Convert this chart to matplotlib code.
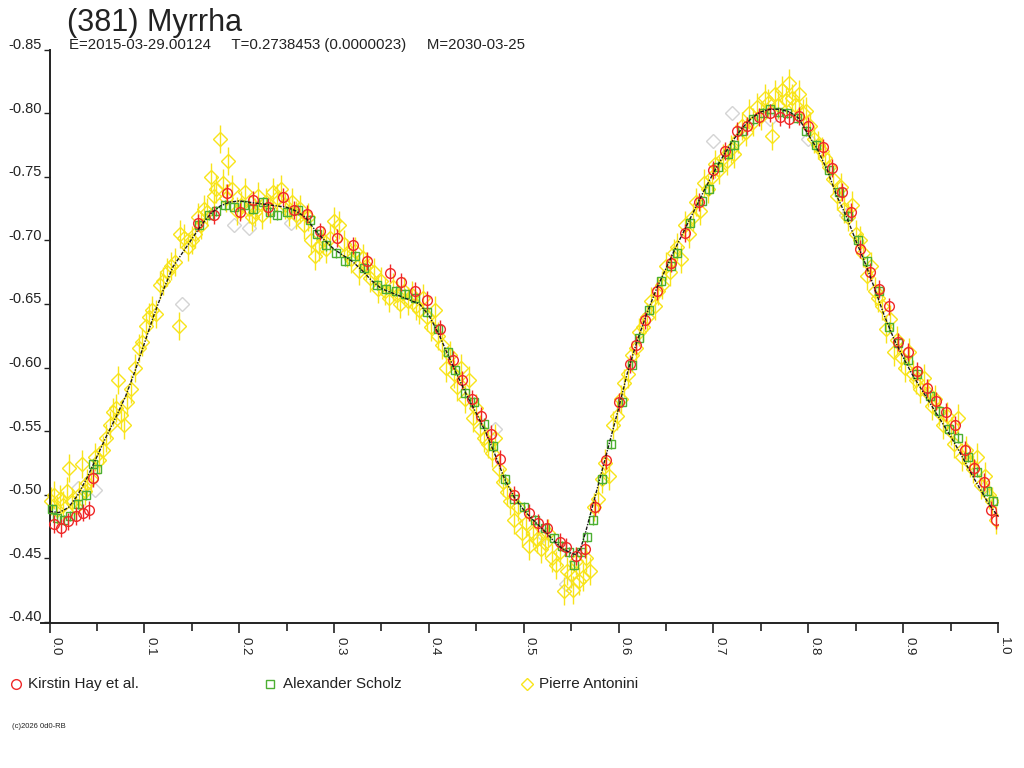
import matplotlib
matplotlib.use("Agg")
import matplotlib.pyplot as plt
import matplotlib.transforms as mtransforms
from matplotlib.lines import Line2D

plt.rcParams['font.family'] = ['Liberation Sans', 'DejaVu Sans']

title = "(381) Myrrha"
subtitle = "E=2015-03-29.00124     T=0.2738453 (0.0000023)     M=2030-03-25"
observers = ["Kirstin Hay et al.", "Alexander Scholz", "Pierre Antonini"]
copyright_text = "(c)2026 0d0-RB"

# fitted curve (phase, mag)
fit_phase = [0.00, 0.01, 0.02, 0.03, 0.04, 0.05, 0.06, 0.07, 0.08, 0.09,
             0.10, 0.11, 0.12, 0.13, 0.14, 0.15, 0.16, 0.17, 0.18, 0.19,
             0.20, 0.21, 0.22, 0.23, 0.24, 0.25, 0.26, 0.27, 0.28, 0.29,
             0.30, 0.31, 0.32, 0.33, 0.34, 0.35, 0.36, 0.37, 0.38, 0.39,
             0.40, 0.41, 0.42, 0.43, 0.44, 0.45, 0.46, 0.47, 0.48, 0.49,
             0.50, 0.51, 0.52, 0.53, 0.54, 0.55, 0.555, 0.56, 0.565, 0.57,
             0.58, 0.59, 0.60, 0.61, 0.62, 0.63, 0.64, 0.65, 0.66, 0.67,
             0.68, 0.69, 0.70, 0.71, 0.72, 0.73, 0.74, 0.75, 0.76, 0.77,
             0.78, 0.79, 0.80, 0.81, 0.82, 0.83, 0.84, 0.85, 0.86, 0.87,
             0.88, 0.89, 0.90, 0.91, 0.92, 0.93, 0.94, 0.95, 0.96, 0.97,
             0.98, 0.99, 1.00]
fit_mag = [-0.487, -0.486, -0.490, -0.500, -0.514, -0.530, -0.546, -0.561, -0.577, -0.597,
           -0.619, -0.641, -0.661, -0.679, -0.690, -0.701, -0.712, -0.721, -0.727, -0.730,
           -0.731, -0.730, -0.729, -0.728, -0.727, -0.726, -0.723, -0.718, -0.708, -0.700,
           -0.693, -0.688, -0.683, -0.676, -0.668, -0.662, -0.659, -0.656, -0.653, -0.650,
           -0.641, -0.627, -0.610, -0.594, -0.578, -0.564, -0.549, -0.531, -0.512, -0.498,
           -0.488, -0.480, -0.473, -0.465, -0.458, -0.454, -0.453, -0.458, -0.470, -0.484,
           -0.512, -0.540, -0.568, -0.598, -0.622, -0.643, -0.662, -0.678, -0.694, -0.709,
           -0.724, -0.739, -0.753, -0.766, -0.778, -0.788, -0.796, -0.801, -0.803, -0.803,
           -0.801, -0.796, -0.783, -0.771, -0.755, -0.735, -0.719, -0.700, -0.682, -0.662,
           -0.641, -0.623, -0.608, -0.594, -0.582, -0.570, -0.558, -0.546, -0.533, -0.519,
           -0.506, -0.493, -0.483]

hay_obs = [(0.005, -0.477), (0.012, -0.474), (0.020, -0.479), (0.028, -0.483), (0.035, -0.486),
           (0.042, -0.488), (0.046, -0.513), (0.157, -0.714), (0.173, -0.720), (0.187, -0.737),
           (0.201, -0.722), (0.215, -0.732), (0.230, -0.726), (0.246, -0.734), (0.258, -0.724),
           (0.271, -0.721), (0.285, -0.707), (0.303, -0.702), (0.320, -0.696), (0.335, -0.684),
           (0.359, -0.674), (0.371, -0.667), (0.385, -0.660), (0.398, -0.653), (0.412, -0.630),
           (0.425, -0.606), (0.435, -0.590), (0.445, -0.575), (0.455, -0.562), (0.465, -0.548),
           (0.475, -0.528), (0.490, -0.500), (0.505, -0.486), (0.515, -0.478), (0.525, -0.474),
           (0.538, -0.463), (0.545, -0.459), (0.555, -0.452), (0.565, -0.457), (0.575, -0.490),
           (0.587, -0.527), (0.600, -0.573), (0.612, -0.603), (0.618, -0.618), (0.628, -0.637),
           (0.640, -0.660), (0.655, -0.682), (0.670, -0.706), (0.685, -0.730), (0.700, -0.755),
           (0.712, -0.770), (0.725, -0.786), (0.735, -0.790), (0.748, -0.797), (0.760, -0.800),
           (0.770, -0.797), (0.780, -0.795), (0.790, -0.798), (0.800, -0.790), (0.815, -0.773),
           (0.825, -0.757), (0.835, -0.738), (0.845, -0.722), (0.855, -0.693), (0.865, -0.675),
           (0.875, -0.662), (0.885, -0.648), (0.895, -0.620), (0.905, -0.612), (0.915, -0.597),
           (0.925, -0.584), (0.935, -0.574), (0.945, -0.565), (0.955, -0.555), (0.965, -0.535),
           (0.975, -0.521), (0.985, -0.510), (0.993, -0.488), (0.998, -0.480)]

scholz_obs = [(0.003, -0.489), (0.008, -0.482), (0.015, -0.480), (0.022, -0.483), (0.030, -0.493),
              (0.038, -0.500), (0.046, -0.524), (0.050, -0.520), (0.158, -0.712), (0.168, -0.720),
              (0.176, -0.723), (0.185, -0.728), (0.195, -0.726), (0.205, -0.728), (0.215, -0.725),
              (0.225, -0.730), (0.232, -0.722), (0.240, -0.720), (0.250, -0.722), (0.262, -0.724),
              (0.275, -0.716), (0.282, -0.705), (0.292, -0.696), (0.302, -0.690), (0.312, -0.684),
              (0.322, -0.688), (0.332, -0.678), (0.345, -0.665), (0.355, -0.662), (0.365, -0.660),
              (0.375, -0.658), (0.385, -0.655), (0.398, -0.644), (0.410, -0.630), (0.420, -0.612),
              (0.428, -0.598), (0.438, -0.580), (0.448, -0.573), (0.458, -0.556), (0.468, -0.538),
              (0.480, -0.512), (0.490, -0.497), (0.500, -0.490), (0.512, -0.480), (0.522, -0.474),
              (0.532, -0.466), (0.540, -0.460), (0.548, -0.455), (0.553, -0.445), (0.560, -0.455),
              (0.567, -0.467), (0.573, -0.480), (0.583, -0.512), (0.592, -0.540), (0.604, -0.573),
              (0.614, -0.602), (0.622, -0.623), (0.632, -0.645), (0.645, -0.668), (0.655, -0.680),
              (0.662, -0.690), (0.675, -0.714), (0.688, -0.731), (0.695, -0.740), (0.705, -0.758),
              (0.715, -0.768), (0.722, -0.775), (0.730, -0.786), (0.742, -0.795), (0.752, -0.800),
              (0.760, -0.803), (0.768, -0.801), (0.778, -0.800), (0.788, -0.796), (0.798, -0.786),
              (0.808, -0.775), (0.822, -0.755), (0.832, -0.738), (0.842, -0.719), (0.852, -0.700),
              (0.862, -0.684), (0.875, -0.660), (0.885, -0.632), (0.895, -0.619), (0.905, -0.606),
              (0.915, -0.595), (0.928, -0.578), (0.938, -0.566), (0.948, -0.552), (0.958, -0.545),
              (0.968, -0.530), (0.978, -0.518), (0.988, -0.503), (0.995, -0.495)]

antonini_obs = [(0.002, -0.495), (0.005, -0.500), (0.008, -0.488), (0.011, -0.497), (0.014, -0.492),
                (0.018, -0.503), (0.021, -0.521), (0.024, -0.494), (0.028, -0.490), (0.031, -0.500),
                (0.034, -0.524), (0.037, -0.503), (0.040, -0.509), (0.044, -0.512), (0.048, -0.530),
                (0.052, -0.527), (0.056, -0.535), (0.060, -0.545), (0.064, -0.555), (0.067, -0.565),
                (0.070, -0.568), (0.072, -0.590), (0.075, -0.563), (0.078, -0.555), (0.082, -0.573),
                (0.086, -0.583), (0.090, -0.600), (0.094, -0.615), (0.098, -0.620), (0.102, -0.633),
                (0.105, -0.640), (0.108, -0.645), (0.112, -0.642), (0.116, -0.665), (0.120, -0.668),
                (0.124, -0.675), (0.128, -0.680), (0.132, -0.683), (0.136, -0.633), (0.138, -0.705),
                (0.142, -0.702), (0.146, -0.695), (0.150, -0.700), (0.153, -0.705), (0.157, -0.718),
                (0.160, -0.712), (0.163, -0.725), (0.166, -0.722), (0.170, -0.750), (0.173, -0.735),
                (0.176, -0.740), (0.180, -0.780), (0.183, -0.745), (0.186, -0.733), (0.188, -0.762),
                (0.192, -0.740), (0.198, -0.723), (0.202, -0.728), (0.206, -0.738), (0.210, -0.725),
                (0.213, -0.718), (0.217, -0.722), (0.220, -0.735), (0.224, -0.720), (0.228, -0.730),
                (0.232, -0.725), (0.236, -0.738), (0.240, -0.733), (0.244, -0.740), (0.248, -0.728),
                (0.252, -0.722), (0.256, -0.730), (0.260, -0.720), (0.264, -0.725), (0.268, -0.712),
                (0.272, -0.718), (0.276, -0.700), (0.280, -0.688), (0.284, -0.695), (0.288, -0.700),
                (0.292, -0.693), (0.296, -0.702), (0.300, -0.715), (0.305, -0.712), (0.310, -0.697),
                (0.314, -0.690), (0.318, -0.685), (0.322, -0.692), (0.326, -0.676), (0.330, -0.686),
                (0.334, -0.680), (0.338, -0.670), (0.342, -0.675), (0.346, -0.662), (0.350, -0.668),
                (0.354, -0.660), (0.358, -0.655), (0.362, -0.663), (0.366, -0.657), (0.370, -0.650),
                (0.374, -0.660), (0.378, -0.652), (0.382, -0.657), (0.386, -0.648), (0.390, -0.645),
                (0.394, -0.655), (0.398, -0.640), (0.402, -0.632), (0.406, -0.645), (0.410, -0.625),
                (0.414, -0.618), (0.418, -0.600), (0.422, -0.610), (0.426, -0.595), (0.430, -0.585),
                (0.434, -0.600), (0.438, -0.575), (0.442, -0.590), (0.446, -0.560), (0.450, -0.568),
                (0.454, -0.552), (0.458, -0.545), (0.462, -0.540), (0.466, -0.533), (0.470, -0.545),
                (0.474, -0.520), (0.478, -0.510), (0.482, -0.502), (0.486, -0.495), (0.490, -0.480),
                (0.494, -0.490), (0.498, -0.470), (0.502, -0.478), (0.506, -0.460), (0.510, -0.470),
                (0.514, -0.465), (0.518, -0.457), (0.522, -0.462), (0.526, -0.470), (0.530, -0.450),
                (0.534, -0.445), (0.538, -0.455), (0.542, -0.424), (0.546, -0.440), (0.550, -0.438),
                (0.552, -0.425), (0.555, -0.448), (0.558, -0.432), (0.562, -0.435), (0.566, -0.450),
                (0.570, -0.440), (0.574, -0.490), (0.578, -0.497), (0.582, -0.512), (0.586, -0.525),
                (0.590, -0.515), (0.594, -0.555), (0.598, -0.562), (0.602, -0.575), (0.606, -0.588),
                (0.610, -0.595), (0.614, -0.610), (0.618, -0.615), (0.622, -0.628), (0.626, -0.632),
                (0.630, -0.640), (0.634, -0.652), (0.638, -0.648), (0.642, -0.660), (0.646, -0.665),
                (0.650, -0.680), (0.654, -0.675), (0.658, -0.690), (0.662, -0.695), (0.666, -0.685),
                (0.670, -0.712), (0.674, -0.705), (0.678, -0.718), (0.682, -0.730), (0.686, -0.723),
                (0.690, -0.745), (0.694, -0.740), (0.698, -0.750), (0.702, -0.760), (0.706, -0.755),
                (0.710, -0.765), (0.714, -0.762), (0.718, -0.772), (0.722, -0.768), (0.726, -0.780),
                (0.730, -0.790), (0.734, -0.785), (0.738, -0.800), (0.742, -0.793), (0.746, -0.805),
                (0.750, -0.798), (0.754, -0.812), (0.758, -0.808), (0.762, -0.782), (0.765, -0.815),
                (0.768, -0.806), (0.772, -0.818), (0.776, -0.810), (0.780, -0.824), (0.783, -0.812),
                (0.786, -0.806), (0.790, -0.815), (0.794, -0.800), (0.798, -0.802), (0.802, -0.790),
                (0.806, -0.780), (0.810, -0.775), (0.814, -0.770), (0.818, -0.765), (0.822, -0.758),
                (0.826, -0.748), (0.830, -0.735), (0.834, -0.742), (0.838, -0.725), (0.842, -0.718),
                (0.846, -0.728), (0.850, -0.705), (0.854, -0.700), (0.858, -0.690), (0.862, -0.672),
                (0.866, -0.680), (0.870, -0.660), (0.874, -0.655), (0.878, -0.648), (0.882, -0.630),
                (0.886, -0.638), (0.890, -0.612), (0.894, -0.622), (0.898, -0.608), (0.902, -0.600),
                (0.906, -0.612), (0.910, -0.595), (0.914, -0.590), (0.918, -0.583), (0.922, -0.592),
                (0.926, -0.580), (0.930, -0.570), (0.934, -0.575), (0.938, -0.565), (0.942, -0.555),
                (0.946, -0.562), (0.950, -0.550), (0.954, -0.540), (0.958, -0.560), (0.962, -0.530),
                (0.966, -0.535), (0.970, -0.525), (0.974, -0.520), (0.978, -0.530), (0.982, -0.508),
                (0.986, -0.515), (0.990, -0.500), (0.994, -0.495), (0.998, -0.480)]

# pale diamonds without a legend entry
other_obs = [(0.030, -0.505), (0.048, -0.504), (0.140, -0.650), (0.195, -0.712), (0.210, -0.710),
             (0.255, -0.714), (0.470, -0.552), (0.520, -0.468), (0.545, -0.430), (0.630, -0.640),
             (0.700, -0.778), (0.720, -0.800), (0.760, -0.795), (0.800, -0.780), (0.840, -0.720),
             (0.985, -0.505)]

hay_err = 0.007
scholz_err = 0.004
antonini_err = 0.011

yticks = [-0.85, -0.80, -0.75, -0.70, -0.65, -0.60, -0.55, -0.50, -0.45, -0.40]
xticks = [0.0, 0.1, 0.2, 0.3, 0.4, 0.5, 0.6, 0.7, 0.8, 0.9, 1.0]

red = '#f02828'
green = '#4caf32'
yellow = '#f8e41a'
grey = '#d4d4d4'
axis_col = '#222222'

fig = plt.figure(figsize=(10.24, 7.68), dpi=100)
W, H = 1024, 768
ax = fig.add_axes([40.7 / W, (H - 623) / H, (998 - 40.7) / W, (623 - 49.5) / H])

def split(obs):
    return [p for p, _ in obs], [m for _, m in obs]

ox, oy = split(other_obs)
ax.plot(ox, oy, 'D', ms=7, mfc='none', mec=grey, mew=1, zorder=1)

px, py = split(antonini_obs)
ax.errorbar(px, py, yerr=antonini_err, fmt='D', ms=6.8, mfc='none', mec=yellow, mew=1,
            ecolor=yellow, elinewidth=1, capsize=0, zorder=2)

sx, sy = split(scholz_obs)
ax.errorbar(sx, sy, yerr=scholz_err, fmt='s', ms=5.4, mfc='none', mec=green, mew=1,
            ecolor=green, elinewidth=1, capsize=0, zorder=3)

hx, hy = split(hay_obs)
ax.errorbar(hx, hy, yerr=hay_err, fmt='o', ms=7, mfc='none', mec=red, mew=1,
            ecolor=red, elinewidth=1, capsize=0, zorder=4)

ax.plot(fit_phase, fit_mag, color='#1a1a1a', lw=1.0, ls=(0, (2.5, 1, 1, 1)), zorder=5)

ax.set_xlim(-0.0093, 1.0)
ax.set_ylim(-0.3992, -0.85)

for s in ['top', 'right']:
    ax.spines[s].set_visible(False)
ax.spines['left'].set_position(('data', 0))
for s in ['left', 'bottom']:
    ax.spines[s].set_color(axis_col)
    ax.spines[s].set_linewidth(1.4)

ax.set_yticks(yticks)
ax.set_yticklabels([f"{v:.2f}" for v in yticks], fontsize=10.5, color=axis_col)
ax.tick_params(axis='y', direction='out', length=4.5, width=1, color=axis_col, pad=1)
shift = mtransforms.ScaledTranslation(0, 0.06, fig.dpi_scale_trans)
for lab in ax.get_yticklabels():
    lab.set_transform(lab.get_transform() + shift)

ax.set_xticks(xticks)
ax.set_xticks([0.05, 0.15, 0.25, 0.35, 0.45, 0.55, 0.65, 0.75, 0.85, 0.95], minor=True)
ax.set_xticklabels([f"{v:.1f}" for v in xticks], fontsize=9.5, color=axis_col,
                   rotation=-90, ha='left', va='top')
ax.tick_params(axis='x', which='major', direction='out', length=7.2, width=1.2,
               color=axis_col, pad=3)
ax.tick_params(axis='x', which='minor', direction='out', length=5.5, width=1.2,
               color=axis_col)

fig.text(67 / W, (H - 31) / H, title, fontsize=22, color=axis_col, va='baseline')
fig.text(69 / W, (H - 49) / H, subtitle, fontsize=10.8, color=axis_col, va='baseline')

# legend row
leg_y = (H - 684) / H
leg_items = [(16, 28, 'o', red, 7), (270, 283, 's', green, 5.2), (527, 539, 'D', yellow, 6.5)]
for (mx, tx, mk, col, ms), name in zip(leg_items, observers):
    fig.add_artist(Line2D([mx / W], [leg_y], marker=mk, ms=ms, mfc='none', mec=col,
                          mew=1, ls='none', transform=fig.transFigure))
    fig.text(tx / W, leg_y, name, fontsize=11, color=axis_col, va='center')

fig.text(12 / W, (H - 727) / H, copyright_text, fontsize=5.5, color=axis_col, va='center')

fig.savefig('out.png', dpi=100)
